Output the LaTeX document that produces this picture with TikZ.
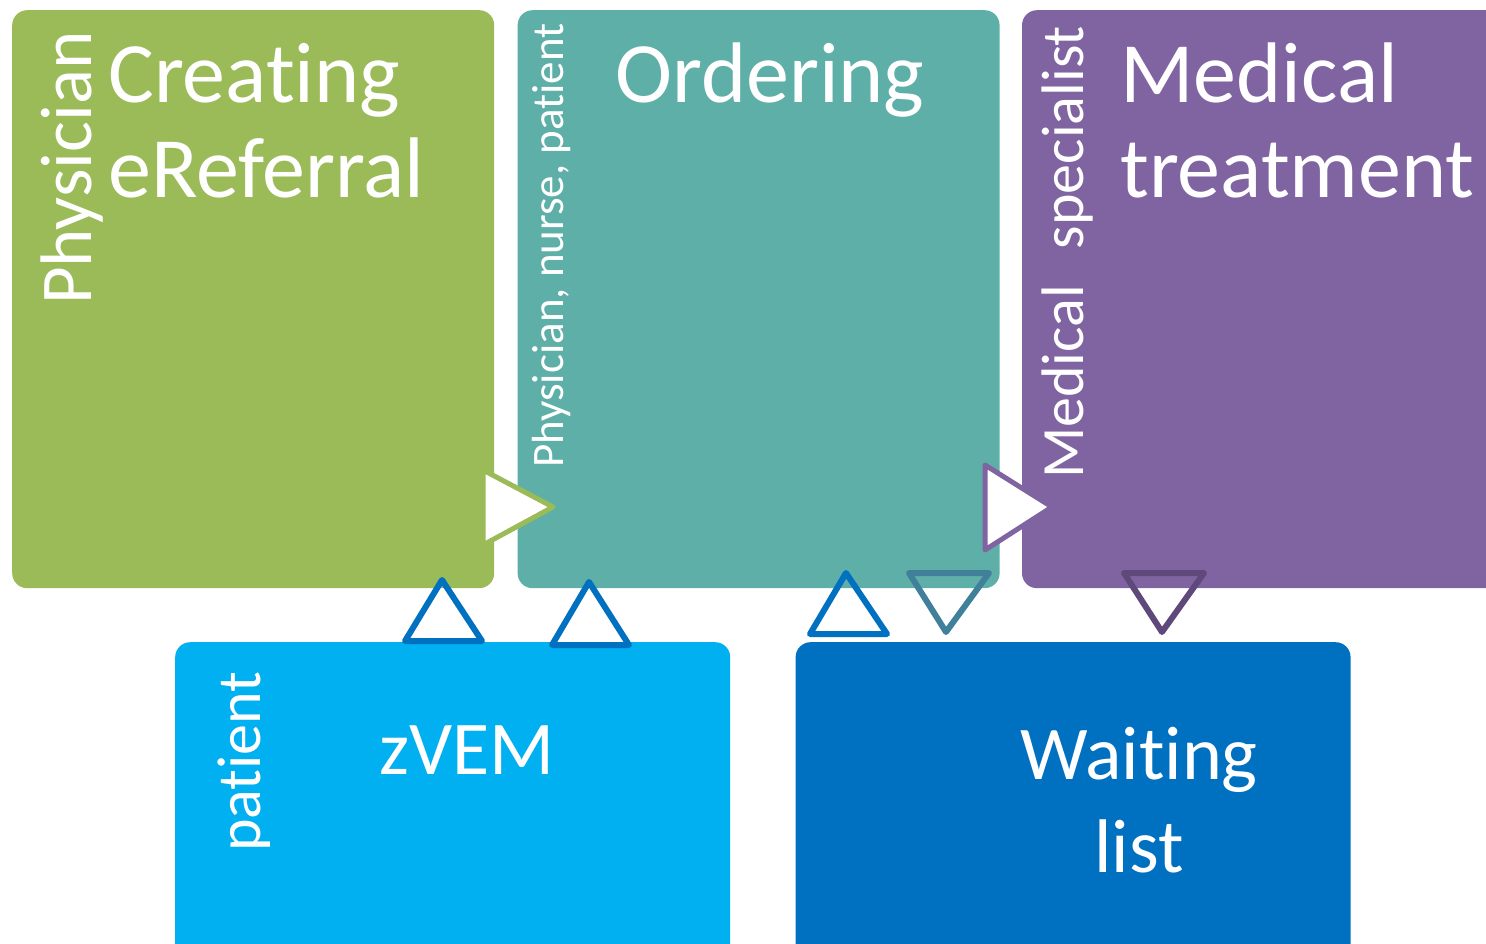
\documentclass[tikz,border=0pt]{standalone}
\usepackage{fontspec}
\setmainfont{Carlito}[Ligatures=NoCommon]
\usetikzlibrary{positioning}

\definecolor{referralgreen}{HTML}{9BBB59}
\definecolor{orderteal}{HTML}{5EAFA7}
\definecolor{treatpurple}{HTML}{8064A2}
\definecolor{zvemblue}{HTML}{00B0F0}
\definecolor{waitblue}{HTML}{0070C0}
\definecolor{tealmark}{HTML}{40809A}
\definecolor{purplemark}{HTML}{5F497A}

\begin{document}
\begin{tikzpicture}[x=1pt, y=1pt, node distance=23pt,
	box/.style={rectangle, rounded corners=15pt, inner sep=0pt, minimum width=482pt, minimum height=578pt},
	lowbox/.style={box, minimum width=555pt, minimum height=330pt},
	title/.style={text=white, inner sep=0pt, align=left, anchor=base west, font=\fontsize{86}{95}\selectfont},
	sub/.style={text=white, inner sep=0pt, align=center, anchor=base, font=\fontsize{76}{93}\selectfont},
	role/.style={text=white, inner sep=0pt, rotate=90, anchor=base west},
	pointer/.style={line width=5pt, line join=round, fill=white},
	marker/.style={line width=6pt, line join=round}]
	\useasboundingbox (0,0) rectangle (1486,-944);
	% upper row
	\node[box, fill=referralgreen, anchor=north west] (referral) at (12,-10) {};
	\node[box, fill=orderteal, right=of referral] (ordering) {};
	\node[box, fill=treatpurple, minimum width=500pt, right=22pt of ordering] (treatment) {};
	% lower row
	\node[lowbox, fill=zvemblue, anchor=north west] (zvem) at (175,-642) {};
	\node[lowbox, fill=waitblue, right=65pt of zvem] (waiting) {};
	
	% base of a two-line text is its last line
	\node[title] (referraltxt) at (108,-198) {Creating\\eReferral};
	\node[title] (orderingtxt) at (615,-103) {Ordering};
	\node[title] (treatmenttxt) at (1120,-198) {Medical\\treatment};
	\node[sub] (zvemtxt) at (467,-774) {zVEM};
	\node[sub] (waitingtxt) at (1139,-872) {Waiting\\list};
	
	\node[role, font=\fontsize{73}{73}\selectfont] (physician) at (91,-305) {Physician};
	\node[role, font=\fontsize{45}{45}\selectfont] (orderroles) at (563,-468) {Physician, nurse, patient};
	\node[role, font=\fontsize{60}{60}\selectfont] (specialist) at (1083,-479) {Medical\hspace{36pt}specialist};
	\node[role, font=\fontsize{62}{62}\selectfont] (zvemrole) at (260,-852) {patient};
	
	% flow pointers
	\draw[pointer, draw=referralgreen] (483,-470) -- (553,-507) -- (483,-545) -- cycle;
	\draw[pointer, draw=treatpurple] (985,-465) -- (1052,-507) -- (985,-550) -- cycle;
	\draw[marker, draw=waitblue] (405,-641) -- (442,-580) -- (482,-641) -- cycle;
	\draw[marker, draw=waitblue] (552,-645) -- (589,-582) -- (629,-645) -- cycle;
	\draw[marker, draw=waitblue] (810,-634) -- (846,-573) -- (887,-634) -- cycle;
	\draw[marker, draw=tealmark] (909,-573) -- (946,-632) -- (989,-573) -- cycle;
	\draw[marker, draw=purplemark] (1124,-573) -- (1162,-632) -- (1204,-573) -- cycle;
\end{tikzpicture}
\end{document}
